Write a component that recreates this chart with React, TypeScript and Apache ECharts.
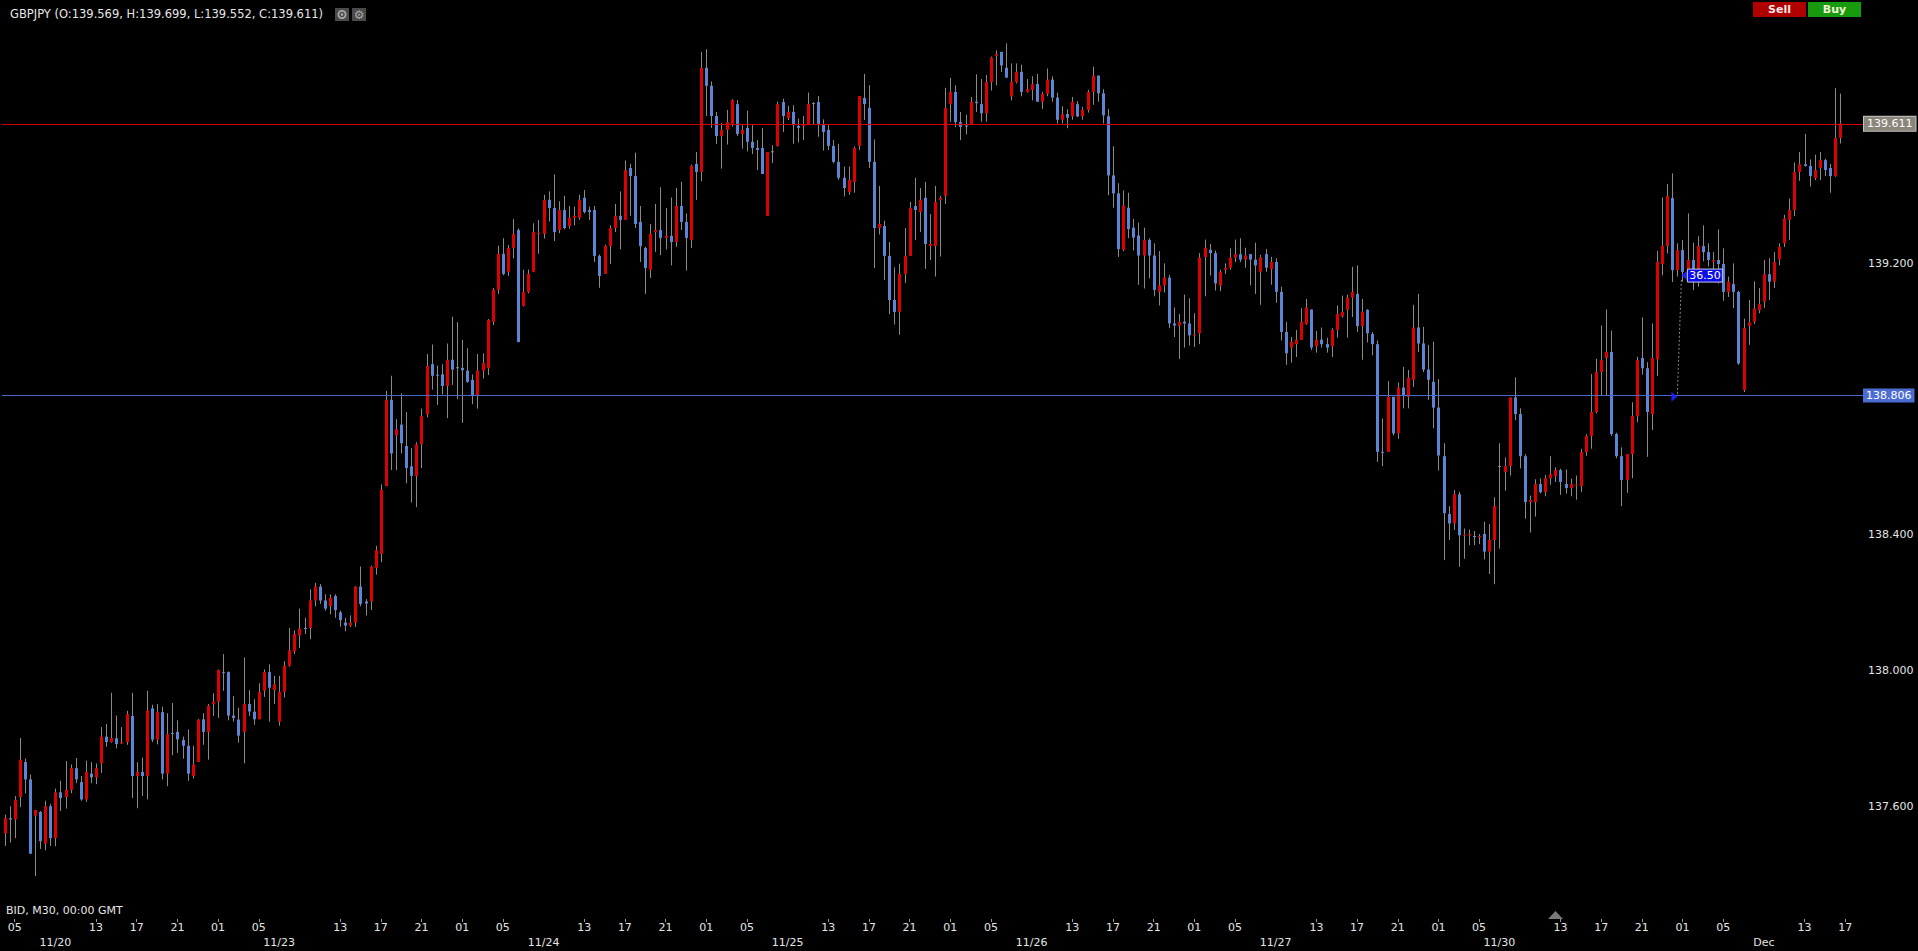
import React, { useEffect, useRef } from 'react';
import * as echarts from 'echarts';

// Candles as [open, close, low, high], M30, grouped by trading day
const nov20: number[][] = [
  [137.520,137.565,137.483,137.575],[137.565,137.561,137.493,137.600],[137.561,137.619,137.506,137.630],
  [137.627,137.737,137.597,137.801],[137.730,137.679,137.638,137.740],[137.679,137.460,137.460,137.693],
  [137.572,137.589,137.394,137.589],[137.583,137.497,137.474,137.586],[137.490,137.600,137.470,137.616],
  [137.600,137.506,137.483,137.607],[137.506,137.641,137.482,137.652],[137.641,137.624,137.586,137.675],
  [137.627,137.648,137.593,137.733],[137.648,137.712,137.638,137.723],[137.712,137.679,137.668,137.742],
  [137.671,137.620,137.616,137.689],[137.620,137.701,137.613,137.734],[137.696,137.685,137.668,137.730],
  [137.685,137.712,137.665,137.726],[137.726,137.805,137.698,137.833],[137.805,137.789,137.775,137.842],
  [137.789,137.801,137.787,137.934],[137.800,137.783,137.770,137.867],[137.785,137.789,137.783,137.833],
  [137.789,137.871,137.781,137.881],[137.866,137.689,137.624,137.934],[137.689,137.701,137.594,137.730],
  [137.701,137.689,137.630,137.743],[137.689,137.882,137.620,137.940],[137.888,137.796,137.789,137.899],
  [137.796,137.877,137.782,137.901],[137.877,137.696,137.679,137.893],[137.696,137.812,137.659,137.874],
  [137.816,137.814,137.750,137.904],[137.819,137.797,137.757,137.853],[137.795,137.778,137.740,137.805],
];
const nov23: number[][] = [
  [137.778,137.696,137.675,137.826],[137.689,137.723,137.682,137.778],[137.730,137.855,137.730,137.857],
  [137.856,137.819,137.781,137.874],[137.819,137.896,137.737,137.901],[137.901,137.908,137.866,137.933],
  [137.908,138.001,137.860,138.003],[137.995,137.992,137.940,138.048],[137.995,137.867,137.853,137.997],
  [137.867,137.860,137.849,137.925],[137.855,137.808,137.787,137.890],[137.819,137.901,137.726,138.038],
  [137.901,137.879,137.866,137.942],[137.878,137.856,137.840,137.915],[137.856,137.937,137.856,137.962],
  [137.940,137.995,137.922,138.003],[137.995,137.949,137.849,138.018],[137.942,137.959,137.901,137.984],
  [137.849,137.937,137.837,137.984],[137.937,138.014,137.920,138.027],[138.014,138.059,138.011,138.125],
  [138.056,138.107,138.048,138.118],[138.103,138.123,138.066,138.182],[138.125,138.122,138.107,138.155],
  [138.125,138.206,138.092,138.239],[138.206,138.247,138.189,138.258],[138.247,138.206,138.196,138.254],
  [138.206,138.182,138.176,138.224],[138.189,138.214,138.165,138.224],[138.219,138.178,138.155,138.224],
  [138.171,138.148,138.129,138.176],[138.141,138.132,138.115,138.155],[138.132,138.141,138.128,138.162],
  [138.141,138.247,138.128,138.248],[138.247,138.196,138.189,138.306],[138.203,138.197,138.162,138.210],
  [138.203,138.306,138.178,138.309],[138.302,138.354,138.282,138.367],[138.343,138.532,138.319,138.548],
  [138.543,138.797,138.543,138.823],[138.797,138.639,138.590,138.868],[138.692,138.710,138.590,138.740],
  [138.724,138.669,138.639,138.816],[138.661,138.596,138.551,138.761],[138.601,138.573,138.495,138.655],
  [138.573,138.666,138.481,138.672],[138.666,138.749,138.596,138.771],[138.754,138.897,138.745,138.932],
  [138.902,138.868,138.827,138.960],[138.871,138.868,138.782,138.898],[138.872,138.838,138.813,138.902],
  [138.838,138.915,138.743,138.963],
];
const nov24: number[][] = [
  [138.915,138.886,138.841,139.042],[138.893,138.893,138.799,139.026],[138.891,138.884,138.729,138.974],
  [138.883,138.850,138.847,138.949],[138.856,138.810,138.784,138.872],[138.809,138.883,138.771,138.932],
  [138.883,138.905,138.860,138.934],[138.890,139.032,138.870,139.035],[139.027,139.121,139.017,139.126],
  [139.121,139.227,139.109,139.251],[139.227,139.168,139.164,139.273],[139.174,139.244,139.162,139.253],
  [139.244,139.286,139.214,139.329],[139.297,138.967,138.967,139.302],[139.074,139.115,139.072,139.180],
  [139.115,139.168,139.111,139.181],[139.174,139.291,139.174,139.317],[139.287,139.289,139.227,139.327],
  [139.286,139.386,139.272,139.401],[139.386,139.362,139.322,139.411],[139.362,139.291,139.265,139.461],
  [139.297,139.356,139.288,139.382],[139.356,139.303,139.299,139.398],[139.309,139.333,139.301,139.368],
  [139.333,139.339,139.311,139.366],[139.333,139.386,139.327,139.401],[139.392,139.350,139.346,139.415],
  [139.356,139.350,139.327,139.366],[139.356,139.221,139.203,139.368],[139.221,139.162,139.127,139.225],
  [139.168,139.250,139.168,139.254],[139.250,139.303,139.197,139.311],[139.303,139.339,139.291,139.374],
  [139.339,139.327,139.240,139.411],[139.327,139.474,139.327,139.502],[139.480,139.456,139.339,139.492],
  [139.456,139.315,139.303,139.525],[139.321,139.250,139.203,139.368],[139.244,139.185,139.109,139.248],
  [139.180,139.286,139.156,139.315],[139.291,139.297,139.233,139.374],[139.297,139.274,139.223,139.423],
  [139.274,139.280,139.240,139.362],[139.280,139.262,139.193,139.393],[139.262,139.368,139.248,139.421],
  [139.368,139.321,139.297,139.439],[139.321,139.274,139.178,139.346],[139.268,139.486,139.244,139.490],
];
const nov25: number[][] = [
  [139.492,139.468,139.386,139.527],[139.468,139.775,139.441,139.822],[139.775,139.722,139.633,139.830],
  [139.722,139.633,139.598,139.735],[139.633,139.574,139.551,139.645],[139.574,139.592,139.478,139.613],
  [139.592,139.615,139.549,139.651],[139.610,139.680,139.602,139.682],[139.668,139.580,139.574,139.680],
  [139.580,139.592,139.537,139.606],[139.598,139.557,139.529,139.649],[139.557,139.539,139.521,139.606],
  [139.539,139.533,139.474,139.562],[139.539,139.462,139.462,139.598],[139.339,139.527,139.339,139.527],
  [139.529,139.529,139.494,139.547],[139.545,139.668,139.543,139.676],[139.674,139.633,139.586,139.684],
  [139.627,139.645,139.621,139.663],[139.645,139.606,139.551,139.665],[139.604,139.598,139.555,139.625],
  [139.604,139.608,139.562,139.633],[139.608,139.668,139.608,139.702],[139.671,139.671,139.608,139.674],
  [139.674,139.610,139.572,139.692],[139.608,139.586,139.531,139.623],[139.592,139.545,139.533,139.606],
  [139.545,139.498,139.494,139.562],[139.498,139.451,139.445,139.551],[139.451,139.421,139.396,139.484],
  [139.409,139.445,139.401,139.484],[139.439,139.539,139.407,139.543],[139.545,139.692,139.533,139.692],
  [139.686,139.668,139.621,139.757],[139.657,139.498,139.480,139.724],[139.498,139.303,139.185,139.564],
  [139.303,139.315,139.284,139.427],[139.309,139.221,139.150,139.325],[139.221,139.091,139.050,139.262],
  [139.091,139.056,139.019,139.187],[139.056,139.168,138.989,139.198],[139.168,139.221,139.141,139.303],
  [139.221,139.362,139.221,139.380],[139.368,139.356,139.268,139.451],[139.350,139.386,139.291,139.421],
  [139.392,139.256,139.183,139.439],[139.250,139.256,139.209,139.344],[139.250,139.380,139.160,139.427],
];
const nov26: number[][] = [
  [139.386,139.392,139.219,139.398],[139.398,139.657,139.374,139.716],[139.668,139.704,139.616,139.745],
  [139.704,139.615,139.600,139.723],[139.615,139.601,139.562,139.645],[139.605,139.603,139.579,139.637],
  [139.610,139.675,139.610,139.689],[139.675,139.671,139.645,139.756],[139.668,139.641,139.616,139.742],
  [139.641,139.733,139.616,139.754],[139.733,139.805,139.708,139.808],[139.810,139.815,139.723,139.826],
  [139.822,139.782,139.763,139.822],[139.775,139.746,139.746,139.847],[139.691,139.733,139.679,139.788],
  [139.733,139.763,139.729,139.788],[139.763,139.704,139.691,139.784],[139.704,139.712,139.702,139.742],
  [139.710,139.727,139.679,139.750],[139.727,139.675,139.675,139.757],[139.675,139.698,139.654,139.704],
  [139.698,139.740,139.691,139.773],[139.740,139.687,139.675,139.750],[139.687,139.622,139.611,139.702],
  [139.622,139.639,139.611,139.662],[139.639,139.628,139.597,139.653],[139.632,139.675,139.622,139.689],
  [139.668,139.632,139.630,139.677],[139.632,139.651,139.622,139.660],[139.651,139.704,139.643,139.710],
  [139.704,139.752,139.666,139.778],[139.752,139.700,139.675,139.752],[139.700,139.635,139.611,139.712],
  [139.632,139.458,139.399,139.654],[139.458,139.405,139.363,139.544],[139.405,139.241,139.218,139.435],
  [139.239,139.369,139.235,139.414],[139.363,139.300,139.273,139.407],[139.304,139.275,139.237,139.330],
  [139.281,139.222,139.136,139.319],[139.222,139.268,139.125,139.304],[139.268,139.222,139.155,139.273],
  [139.222,139.121,139.102,139.258],[139.115,139.134,139.075,139.235],[139.134,139.157,139.113,139.199],
  [139.157,139.022,139.008,139.165],[139.022,139.016,138.982,139.069],[139.016,139.027,138.917,139.050],
];
const nov27: number[][] = [
  [139.027,139.022,138.951,139.107],[139.022,138.987,138.957,139.096],[138.987,138.989,138.953,139.052],
  [138.993,139.216,138.961,139.229],[139.218,139.245,139.102,139.269],[139.239,139.229,139.163,139.256],
  [139.229,139.140,139.119,139.237],[139.134,139.174,139.117,139.180],[139.180,139.186,139.168,139.199],
  [139.186,139.216,139.180,139.243],[139.216,139.226,139.203,139.269],[139.226,139.210,139.203,139.273],
  [139.210,139.222,139.186,139.245],[139.226,139.210,139.134,139.226],[139.210,139.193,139.109,139.260],
  [139.174,139.216,139.077,139.224],[139.226,139.186,139.174,139.241],[139.182,139.203,139.136,139.218],
  [139.203,139.115,139.083,139.214],[139.115,138.997,138.972,139.130],[138.997,138.934,138.900,139.027],
  [138.951,138.968,138.907,138.982],[138.961,138.974,138.923,139.003],[138.974,139.027,138.974,139.067],
  [139.020,139.069,139.018,139.094],[139.063,138.951,138.944,139.063],[138.955,138.974,138.936,139.000],
  [138.974,138.961,138.951,139.010],[138.961,138.951,138.936,138.980],[138.955,139.003,138.923,139.008],
  [139.003,139.050,138.980,139.075],[139.043,139.056,139.039,139.104],[139.062,139.098,138.980,139.107],
  [139.098,139.115,139.041,139.189],[139.109,139.014,138.997,139.193],[139.014,139.056,138.915,139.094],
  [139.062,138.993,138.966,139.064],[138.991,138.961,138.928,138.997],[138.961,138.644,138.614,138.972],
  [138.644,138.642,138.602,138.742],[138.644,138.806,138.644,138.852],[138.806,138.698,138.692,138.806],
  [138.698,138.833,138.682,138.848],[138.833,138.810,138.772,138.894],
];
const nov30: number[][] = [
  [138.806,138.862,138.772,138.885],[138.856,139.010,138.835,139.077],[139.010,138.963,138.938,139.109],
  [138.963,138.886,138.879,139.012],[138.886,138.856,138.797,138.959],[138.850,138.774,138.713,138.968],
  [138.774,138.633,138.589,138.858],[138.631,138.463,138.325,138.669],[138.461,138.433,138.384,138.484],
  [138.433,138.519,138.414,138.531],[138.519,138.398,138.305,138.526],[138.398,138.400,138.329,138.418],
  [138.398,138.402,138.369,138.415],[138.396,138.394,138.369,138.411],[138.392,138.396,138.372,138.402],
  [138.402,138.350,138.327,138.438],[138.350,138.384,138.284,138.431],[138.384,138.484,138.254,138.510],
  [138.602,138.602,138.359,138.669],[138.584,138.602,138.529,138.627],[138.602,138.804,138.574,138.804],
  [138.804,138.755,138.737,138.863],[138.755,138.631,138.595,138.772],[138.631,138.496,138.447,138.637],
  [138.496,138.502,138.406,138.515],[138.496,138.549,138.453,138.563],[138.549,138.525,138.521,138.566],
  [138.525,138.566,138.513,138.576],[138.566,138.578,138.547,138.631],[138.572,138.590,138.555,138.598],
  [138.590,138.555,138.517,138.594],[138.549,138.537,138.521,138.592],[138.537,138.549,138.513,138.565],
  [138.545,138.547,138.503,138.574],[138.543,138.643,138.525,138.653],[138.643,138.690,138.632,138.696],
  [138.690,138.761,138.653,138.873],[138.761,138.879,138.757,138.918],[138.879,138.914,138.808,139.016],
  [138.920,138.938,138.810,139.063],[138.938,138.696,138.690,139.001],[138.696,138.631,138.625,138.700],
  [138.631,138.561,138.484,138.657],[138.561,138.637,138.523,138.637],[138.637,138.749,138.566,138.790],
  [138.749,138.914,138.731,138.924],[138.920,138.890,138.871,139.040],[138.890,138.761,138.629,138.908],
  [138.755,138.920,138.708,139.022],[138.916,139.203,138.867,139.236],[139.197,139.250,139.164,139.393],
  [139.250,139.397,139.228,139.433],
];
const dec01: number[][] = [
  [139.391,139.179,139.144,139.464],[139.179,139.238,139.160,139.258],[139.238,139.174,139.145,139.268],
  [139.179,139.209,139.150,139.346],[139.209,139.145,139.120,139.260],[139.145,139.250,139.130,139.279],
  [139.250,139.232,139.205,139.311],[139.232,139.209,139.190,139.258],[139.204,139.209,139.180,139.232],
  [139.209,139.197,139.140,139.299],[139.197,139.115,139.089,139.243],[139.115,139.145,139.100,139.160],
  [139.138,139.115,139.067,139.199],[139.115,138.904,138.900,139.118],[138.826,139.008,138.820,139.036],
  [139.014,139.025,138.959,139.091],[139.027,139.066,139.020,139.146],[139.061,139.079,139.052,139.126],
  [139.086,139.167,139.068,139.209],[139.167,139.145,139.091,139.214],[139.145,139.203,139.126,139.232],
  [139.211,139.248,139.193,139.258],[139.258,139.331,139.247,139.342],[139.327,139.356,139.268,139.390],
  [139.356,139.468,139.338,139.496],[139.468,139.491,139.442,139.527],[139.491,139.486,139.484,139.580],
  [139.486,139.456,139.425,139.505],[139.450,139.474,139.444,139.519],[139.480,139.503,139.444,139.527],
  [139.503,139.474,139.456,139.507],[139.480,139.456,139.407,139.492],[139.456,139.568,139.454,139.715],
  [139.569,139.611,139.552,139.699],
];

// Trading sessions: [date, start minute of day, number of 30-minute slots]
const SESSIONS: [string, number, number][] = [
  ['11/20', 240, 36], ['11/22', 1320, 4], ['11/23', 0, 48], ['11/24', 0, 48], ['11/25', 0, 48],
  ['11/26', 0, 48], ['11/27', 0, 44], ['11/29', 1320, 4], ['11/30', 0, 48], ['12/01', 0, 38],
];

// Axis labels: [slot index, text]
const HOUR_TICKS: [number, string][] = [
  [2,'05'],[18,'13'],[26,'17'],[34,'21'],[42,'01'],[50,'05'],[66,'13'],[74,'17'],[82,'21'],[90,'01'],
  [98,'05'],[114,'13'],[122,'17'],[130,'21'],[138,'01'],[146,'05'],[162,'13'],[170,'17'],[178,'21'],
  [186,'01'],[194,'05'],[210,'13'],[218,'17'],[226,'21'],[234,'01'],[242,'05'],[258,'13'],[266,'17'],
  [274,'21'],[282,'01'],[290,'05'],[306,'13'],[314,'17'],[322,'21'],[330,'01'],[338,'05'],[354,'13'],
  [362,'17'],
];
const DATE_LABELS: [number, string][] = [
  [10,'11/20'],[54,'11/23'],[106,'11/24'],[154,'11/25'],[202,'11/26'],[250,'11/27'],[294,'11/30'],[346,'Dec'],
];
const PRICE_TICKS = [137.6, 138.0, 138.4, 139.2];
const LAST_PRICE = 139.611;
const ORDER_LEVEL = 138.806;
const ANNOTATION = { index: 329, base: 138.806, top: 139.163, text: '36.50' };

const FONT = "'DejaVu Sans', sans-serif";

export default function App() {
  const ref = useRef<HTMLDivElement>(null);
  useEffect(() => {
    const el = ref.current!;
    const chart = echarts.init(el, null, { renderer: 'svg' });

    const candles = [...nov20, ...nov23, ...nov24, ...nov25, ...nov26, ...nov27, ...nov30, ...dec01];
    const categories: string[] = [];
    SESSIONS.forEach(([d, start, n]) => {
      for (let k = 0; k < n; k++) {
        const m = start + k * 30;
        categories.push(`${d} ${String(Math.floor(m / 60)).padStart(2, '0')}:${String(m % 60).padStart(2, '0')}`);
      }
    });
    const data = candles.map((c, i) => [i, c[0], c[1], c[2], c[3]]);
    const hourMap = new Map(HOUR_TICKS);
    const dateMap = new Map(DATE_LABELS);
    const last = dec01[dec01.length - 1];

    const option: any = {
      animation: false,
      backgroundColor: '#000000',
      grid: { left: 2, top: 0, width: 1861, height: 919, containLabel: false },
      xAxis: [
        {
          type: 'category', data: categories, boundaryGap: true,
          axisLine: { show: false },
          axisTick: { show: true, alignWithLabel: true, length: 3, interval: (i: number) => hourMap.has(i), lineStyle: { color: '#9a9a9a' } },
          axisLabel: { interval: (i: number) => hourMap.has(i), formatter: (_v: string, i: number) => hourMap.get(i) || '', color: '#e4e4e4', fontFamily: FONT, fontSize: 11, margin: 3 },
          splitLine: { show: false },
        },
        {
          type: 'category', data: categories, boundaryGap: true, position: 'bottom', offset: 15,
          axisLine: { show: false }, axisTick: { show: false },
          axisLabel: { interval: (i: number) => dateMap.has(i), formatter: (_v: string, i: number) => dateMap.get(i) || '', color: '#e4e4e4', fontFamily: FONT, fontSize: 11, margin: 3 },
          splitLine: { show: false },
        },
      ],
      yAxis: {
        type: 'value', position: 'right', min: 137.2678, max: 139.9747,
        axisLine: { show: false }, axisTick: { show: false }, splitLine: { show: false },
        axisLabel: { customValues: PRICE_TICKS, formatter: (v: number) => v.toFixed(3), color: '#e4e4e4', fontFamily: FONT, fontSize: 11, margin: 5 },
      },
      series: [
        {
          type: 'custom',
          xAxisIndex: 0, yAxisIndex: 0,
          data,
          dimensions: ['i', 'open', 'close', 'low', 'high'],
          encode: { x: 0, y: [1, 2, 3, 4] },
          renderItem: (_p: any, api: any) => {
            const i = api.value(0);
            const o = api.value(1), c = api.value(2), l = api.value(3), h = api.value(4);
            const pO = api.coord([i, o]);
            const pC = api.coord([i, c]);
            const pL = api.coord([i, l]);
            const pH = api.coord([i, h]);
            const cx = Math.round(pO[0]);
            const color = o === c ? '#8a8a8a' : c > o ? '#dd0000' : '#5b86d6';
            const top = Math.min(pO[1], pC[1]);
            const hgt = Math.max(1, Math.abs(pO[1] - pC[1]));
            return {
              type: 'group',
              children: [
                { type: 'line', shape: { x1: cx + 0.5, y1: pH[1], x2: cx + 0.5, y2: pL[1] }, style: { stroke: '#8a8a8a', lineWidth: 1 } },
                { type: 'rect', shape: { x: cx - 1, y: top, width: 3, height: hgt }, style: { fill: color } },
              ],
            };
          },
          markLine: {
            symbol: 'none', silent: true, animation: false,
            data: [
              {
                yAxis: LAST_PRICE,
                lineStyle: { color: '#d40000', width: 1, type: 'solid' },
                label: { show: true, position: 'end', formatter: LAST_PRICE.toFixed(3), distance: 1, color: '#ffffff', fontFamily: FONT, fontSize: 11, backgroundColor: '#8a867b', borderColor: '#c4c4c4', borderWidth: 1, padding: [2, 3, 1, 3] },
              },
              {
                yAxis: ORDER_LEVEL,
                lineStyle: { color: '#4a68cc', width: 1, type: 'solid' },
                label: { show: true, position: 'end', formatter: ORDER_LEVEL.toFixed(3), distance: 0, color: '#ffffff', fontFamily: FONT, fontSize: 11, backgroundColor: '#4b6dd2', padding: [2, 3, 1, 3] },
              },
            ],
          },
        },
      ],
    };
    chart.setOption(option);

    const [bx, by] = chart.convertToPixel({ gridIndex: 0 }, [ANNOTATION.index, ANNOTATION.base]) as number[];
    const ty = (chart.convertToPixel({ gridIndex: 0 }, [ANNOTATION.index, ANNOTATION.top]) as number[])[1];

    const Z = 100;
    chart.setOption({
      graphic: [
        { type: 'text', z: Z, x: 10, y: 14, style: { text: `GBPJPY (O:${last[0].toFixed(3)}, H:${last[3].toFixed(3)}, L:${last[2].toFixed(3)}, C:${last[1].toFixed(3)})`, fill: '#e6e6e6', font: `11.5px ${FONT}`, align: 'left', verticalAlign: 'middle' } },
        { type: 'rect', z: Z, shape: { x: 335, y: 8, width: 14, height: 13 }, style: { fill: '#4a4a4a' } },
        { type: 'ring', z: Z, shape: { cx: 342, cy: 14.5, r: 4.5, r0: 2.8 }, style: { fill: '#a8a8a8' } },
        { type: 'circle', z: Z, shape: { cx: 342, cy: 14.5, r: 1.3 }, style: { fill: '#a8a8a8' } },
        { type: 'rect', z: Z, shape: { x: 352, y: 8, width: 14, height: 13 }, style: { fill: '#4a4a4a' } },
        { type: 'text', z: Z, x: 359, y: 14.5, style: { text: '\u2699', fill: '#a8a8a8', font: `12px ${FONT}`, align: 'center', verticalAlign: 'middle' } },
        { type: 'rect', z: Z, shape: { x: 1753, y: 2, width: 53, height: 15 }, style: { fill: '#b00000' } },
        { type: 'text', z: Z, x: 1779.5, y: 9.5, style: { text: 'Sell', fill: '#f6e6e6', font: `bold 11px ${FONT}`, align: 'center', verticalAlign: 'middle' } },
        { type: 'rect', z: Z, shape: { x: 1808, y: 2, width: 53, height: 15 }, style: { fill: '#179a0d' } },
        { type: 'text', z: Z, x: 1834.5, y: 9.5, style: { text: 'Buy', fill: '#f2f2d6', font: `bold 11px ${FONT}`, align: 'center', verticalAlign: 'middle' } },
        { type: 'text', z: Z, x: 6, y: 910.5, style: { text: 'BID, M30, 00:00 GMT', fill: '#e6e6e6', font: `11px ${FONT}`, align: 'left', verticalAlign: 'middle' } },
        { type: 'polygon', z: Z, shape: { points: [[1548, 919], [1555.5, 911], [1563, 919]] }, style: { fill: '#7a7a7a' } },
        { type: 'line', z: Z, shape: { x1: bx, y1: by - 3, x2: bx + 4, y2: ty + 3 }, style: { stroke: '#8a8a8a', lineWidth: 1, lineDash: [2, 2] } },
        { type: 'polygon', z: Z, shape: { points: [[bx - 6, by - 5], [bx, by], [bx - 6, by + 5]] }, style: { fill: '#1e1ef0' } },
        { type: 'polygon', z: Z, shape: { points: [[bx + 4, ty], [bx + 10, ty - 5], [bx + 10, ty + 5]] }, style: { fill: '#1e1ef0' } },
        { type: 'rect', z: Z, shape: { x: bx + 10, y: ty - 6.5, width: 35, height: 13 }, style: { fill: '#0c0ce8', stroke: '#c8c8e8', lineWidth: 1 } },
        { type: 'text', z: Z + 1, x: bx + 27.5, y: ty, style: { text: ANNOTATION.text, fill: '#ffffff', font: `11px ${FONT}`, align: 'center', verticalAlign: 'middle' } },
      ],
    });

    return () => chart.dispose();
  }, []);
  return <div ref={ref} style={{ position: 'fixed', left: 0, top: 0, width: 1918, height: 951, background: '#000' }} />;
}
